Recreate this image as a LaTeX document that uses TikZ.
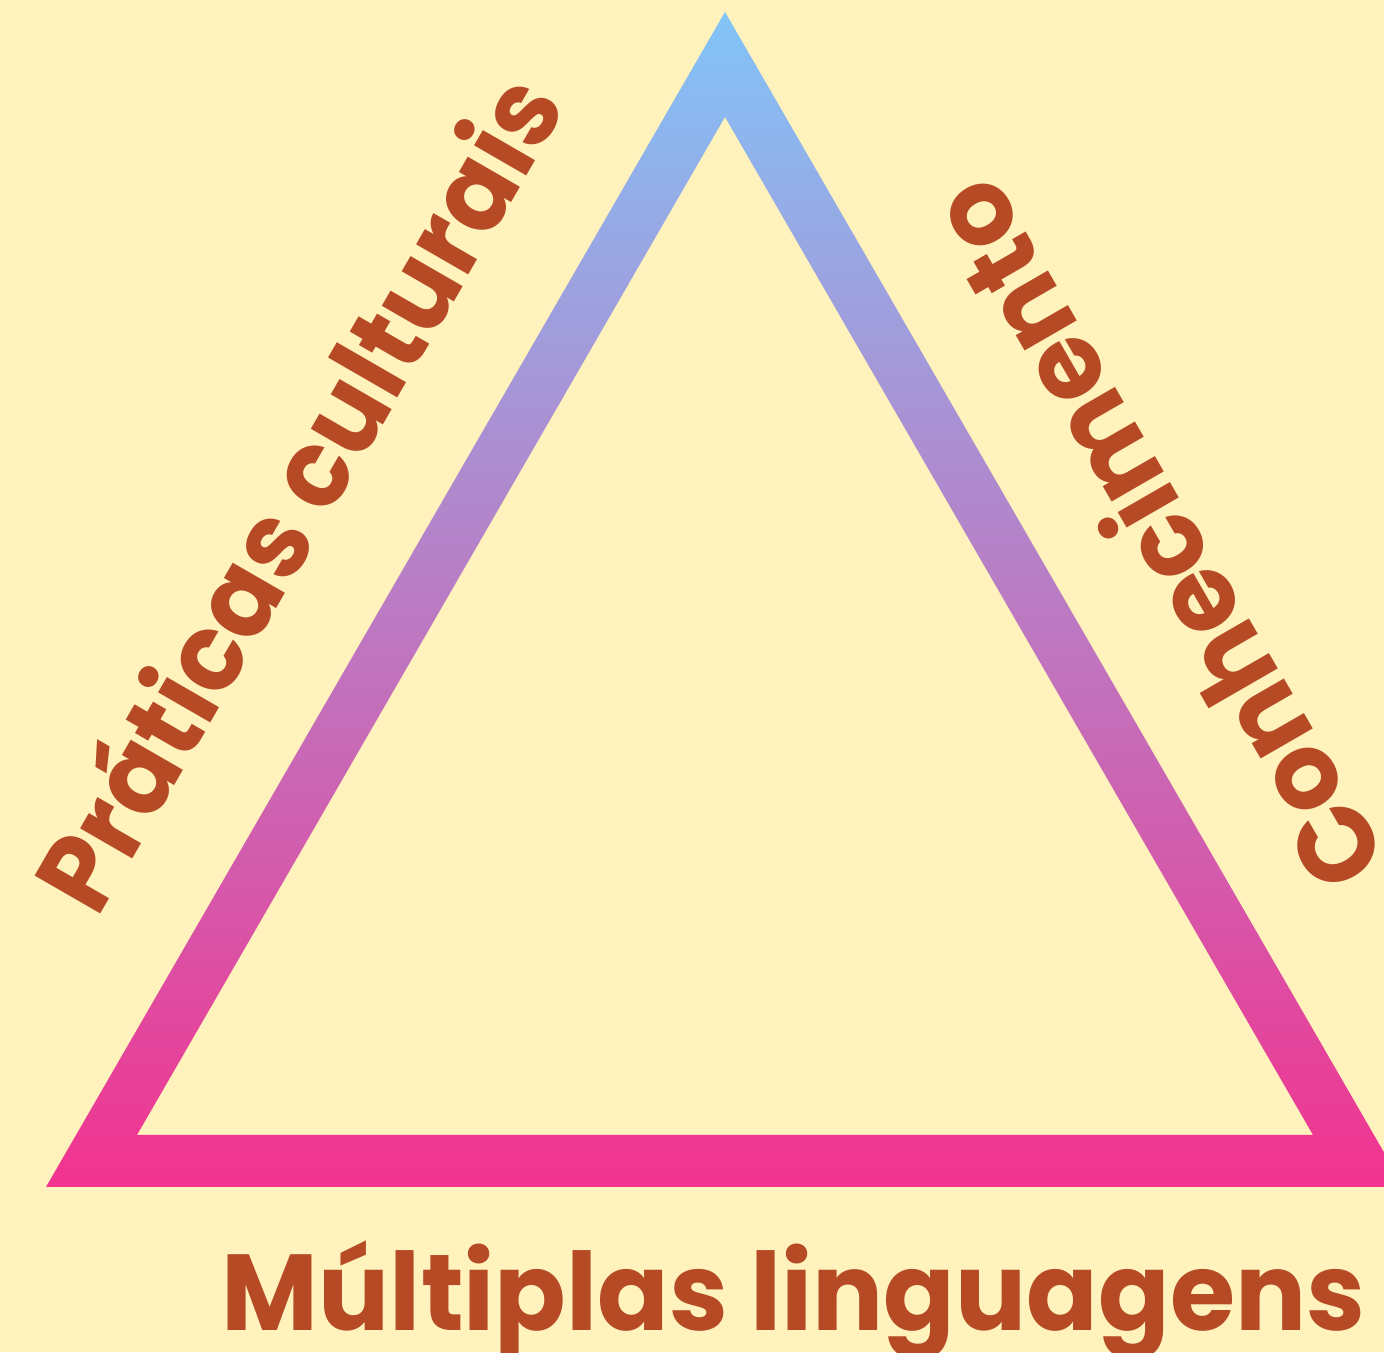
\documentclass[tikz,border=0pt]{standalone}
\usepackage{fontspec}
\usepackage{graphicx}
\newfontfamily\pf{Poppins}
\definecolor{bgc}{HTML}{FFF2BD}
\definecolor{txc}{HTML}{B54A25}
\definecolor{topc}{HTML}{82C4F8}
\definecolor{botc}{HTML}{F2338F}
\tikzset{
  lbl/.style={inner sep=0pt, outer sep=0pt, text=txc, font=\pf\bfseries\fontsize{108}{108}\selectfont}
}
\begin{document}
\begin{tikzpicture}[x=1pt,y=1pt]
\useasboundingbox (0,0) rectangle (1384,1352);
\fill[bgc] (0,0) rectangle (1384,1352);
\coordinate (oA) at (725,1340);
\coordinate (oL) at (46,165);
\coordinate (oR) at (1404,165);
\coordinate (iA) at (725,1235);
\coordinate (iL) at (137,217);
\coordinate (iR) at (1313,217);
\begin{scope}
\clip (0,0) rectangle (1384,1352);
\shade[top color=topc, bottom color=botc, even odd rule]
  (oA) -- (oL) -- (oR) -- cycle (iA) -- (iL) -- (iR) -- cycle;
\end{scope}
\node[lbl, anchor=base west, rotate=60] (pc) at (97,432) {\scalebox{0.957}[1]{Práticas culturais}};
\node[lbl, anchor=base west, rotate=120] (co) at (1389,491) {\scalebox{0.963}[1]{Conhecimento}};
\node[lbl, anchor=base east] (ml) at (1365,22) {\resizebox{1143pt}{\height}{Múltiplas linguagens}};
\end{tikzpicture}
\end{document}
